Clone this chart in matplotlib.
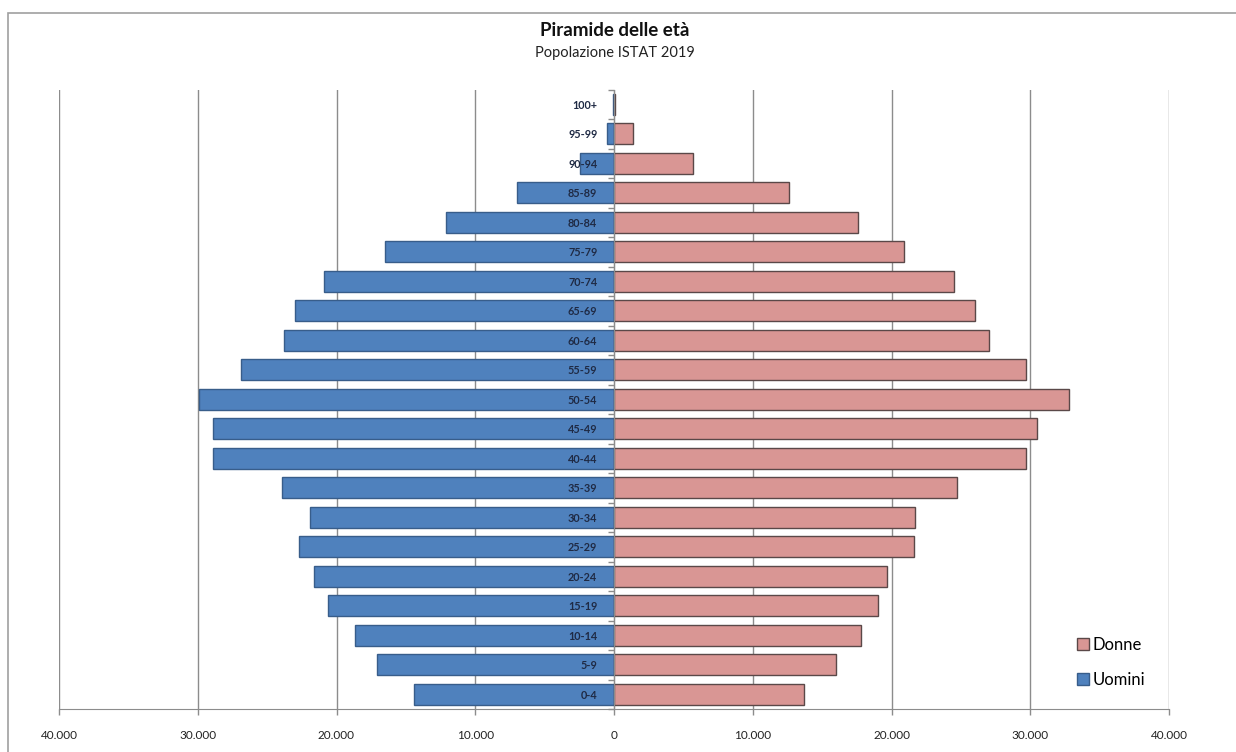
import matplotlib.pyplot as plt
from matplotlib.patches import Rectangle
from matplotlib.ticker import FixedLocator, FuncFormatter

plt.rcParams['font.family'] = ['Lato', 'DejaVu Sans']

# classi di eta' e popolazione per sesso
eta = ['0-4', '5-9', '10-14', '15-19', '20-24', '25-29', '30-34', '35-39',
       '40-44', '45-49', '50-54', '55-59', '60-64', '65-69', '70-74',
       '75-79', '80-84', '85-89', '90-94', '95-99', '100+']
uomini = [14400, 17100, 18700, 20600, 21600, 22700, 21900, 23900,
          28900, 28900, 29900, 26900, 23800, 23000, 20900,
          16500, 12100, 7000, 2450, 500, 70]
donne = [13700, 16000, 17800, 19000, 19700, 21600, 21700, 24750,
         29700, 30500, 32800, 29700, 27000, 26000, 24500,
         20900, 17550, 12600, 5700, 1400, 100]
tacche_x = [-40000, -30000, -20000, -10000, 0, 10000, 20000, 30000, 40000]

blu = '#4f81bd'
rosa = '#d99694'
grigio = '#8c8c8c'

fig = plt.figure(figsize=(12.36, 7.52), dpi=100)
ax = fig.add_axes([59 / 1236, 1 - 709 / 752, 1110 / 1236, (709 - 89.5) / 752])

y = range(len(eta))
ax.barh(y, [-v for v in uomini], height=0.7, color=blu,
        edgecolor='#385d8a', linewidth=1, label='Uomini', zorder=2)
ax.barh(y, donne, height=0.7, color=rosa,
        edgecolor='#5a4848', linewidth=1, label='Donne', zorder=2)

ax.set_xlim(-40000, 40000)
ax.set_ylim(-0.5, len(eta) - 0.5)

# asse x con migliaia separate dal punto
ax.xaxis.set_major_locator(FixedLocator(tacche_x))
ax.xaxis.set_major_formatter(
    FuncFormatter(lambda v, p: f'{abs(int(v)):,}'.replace(',', '.')))
ax.tick_params(axis='x', direction='out', length=4, width=1, color=grigio,
               pad=11, labelsize=8.5, labelcolor='#222222')
ax.grid(axis='x', color=grigio, linewidth=1)
ax.set_axisbelow(True)

# asse delle categorie al centro
ax.spines['left'].set_position(('data', 0))
ax.spines['left'].set_color(grigio)
ax.spines['bottom'].set_color(grigio)
ax.spines['top'].set_visible(False)
ax.spines['right'].set_visible(False)
ax.set_yticks(list(y))
ax.set_yticklabels(eta, fontsize=7.8, fontweight='bold', color='#1f2a44')
ax.tick_params(axis='y', which='major', length=0, pad=12)
ax.yaxis.set_minor_locator(FixedLocator([i - 0.5 for i in range(len(eta) + 1)]))
ax.tick_params(axis='y', which='minor', length=4, width=1, color=grigio,
               direction='out')
ax.yaxis.set_zorder(3)

fig.text(615 / 1236, 1 - 30 / 752, 'Piramide delle età', ha='center',
         va='center', fontsize=13.5, fontweight='bold', color='#111111')
fig.text(615 / 1236, 1 - 53 / 752, 'Popolazione ISTAT 2019', ha='center',
         va='center', fontsize=10.5, color='#222222')

h, l = ax.get_legend_handles_labels()
ax.legend(h[::-1], l[::-1], loc='lower right', bbox_to_anchor=(0.992, 0.01),
          frameon=False, fontsize=12, handlelength=0.7, handleheight=0.7,
          handletextpad=0.2, labelspacing=1.15)

# cornice del grafico
fig.patches.append(Rectangle((8 / 1236, -0.1), 1.2, 1.1 - 13 / 752,
                             transform=fig.transFigure, fill=False,
                             edgecolor='#a0a0a0', linewidth=1.2))

fig.savefig('out.png', dpi=100)
